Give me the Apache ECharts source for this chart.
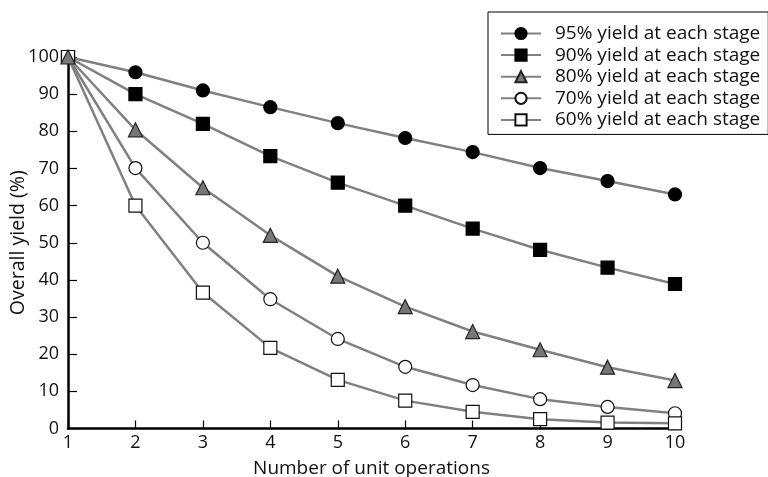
<!DOCTYPE html>
<html>
<head>
<meta charset="utf-8">
<script src="https://cdn.jsdelivr.net/npm/echarts@6/dist/echarts.min.js"></script>
<style>html,body{margin:0;padding:0;background:#fff}#c{width:768px;height:477px}</style>
</head>
<body>
<div id="c"></div>
<script>
const stages = [1, 2, 3, 4, 5, 6, 7, 8, 9, 10];
const seriesNames = ['95% yield at each stage', '90% yield at each stage', '80% yield at each stage', '70% yield at each stage', '60% yield at each stage'];
const y95 = [100, 95.9, 91.0, 86.5, 82.2, 78.2, 74.4, 70.1, 66.6, 63.0];
const y90 = [100, 90.0, 82.0, 73.3, 66.2, 60.0, 53.8, 48.1, 43.3, 38.9];
const y80 = [100, 80.4, 64.8, 52.0, 41.0, 32.8, 26.1, 21.2, 16.5, 12.9];
const y70 = [100, 70.1, 50.0, 34.8, 24.1, 16.6, 11.7, 7.9, 5.8, 4.1];
const y60 = [100, 60.0, 36.6, 21.7, 13.1, 7.5, 4.5, 2.5, 1.6, 1.4];
const yTicks = [0, 10, 20, 30, 40, 50, 60, 70, 80, 90, 100];
const xTicks = stages;

const FONT = 'Open Sans';
const pair = arr => stages.map((s, i) => [s, arr[i]]);
const styles = [
  {symbol: 'circle', size: 13, fill: '#000', border: '#000', z: 3},
  {symbol: 'rect', size: 13, fill: '#000', border: '#000', z: 3},
  {symbol: 'triangle', size: 14, fill: '#777', border: '#222', z: 6},
  {symbol: 'circle', size: 13, fill: '#fff', border: '#111', z: 4},
  {symbol: 'rect', size: 13, fill: '#fff', border: '#111', z: 5}
];
const datas = [y95, y90, y80, y70, y60];

const chart = echarts.init(document.getElementById('c'), null, {renderer: 'canvas'});
chart.setOption({
  animation: false,
  backgroundColor: '#fff',
  grid: {left: 68, right: 93, top: 57, bottom: 48.5, containLabel: false, outerBoundsMode: 'none'},
  legend: {
    orient: 'vertical',
    left: 488, top: 12,
    padding: [12, 8, 5, 12],
    borderColor: '#000', borderWidth: 1,
    itemWidth: 40, itemHeight: 14, itemGap: 2.6,
    textStyle: {fontFamily: FONT, fontSize: 19, lineHeight: 19, color: '#111', padding: [0, 0, 0, 9]},
    data: seriesNames
  },
  xAxis: {
    type: 'value', min: 1, max: 10, interval: 1,
    name: 'Number of unit operations', nameLocation: 'middle', nameGap: 31,
    nameTextStyle: {fontFamily: FONT, fontSize: 19, color: '#111'},
    axisLine: {show: true, onZero: false, lineStyle: {color: '#000', width: 2.5}},
    axisTick: {show: true, inside: true, length: 8, lineStyle: {color: '#000', width: 1.2}},
    axisLabel: {fontFamily: FONT, fontSize: 18, color: '#111', margin: 5,
      formatter: v => xTicks.includes(v) ? String(v) : ''},
    splitLine: {show: false}
  },
  yAxis: {
    type: 'value', min: 0, max: 100, interval: 10,
    name: 'Overall yield (%)', nameLocation: 'middle', nameGap: 40, nameRotate: 90,
    nameMoveOverlap: false,
    nameTextStyle: {fontFamily: FONT, fontSize: 19.5, color: '#111'},
    axisLine: {show: true, onZero: false, lineStyle: {color: '#000', width: 2.5}},
    axisTick: {show: true, inside: true, length: 9, lineStyle: {color: '#000', width: 1.2}},
    axisLabel: {fontFamily: FONT, fontSize: 18, color: '#111', margin: 9,
      formatter: v => yTicks.includes(v) ? String(v) : ''},
    splitLine: {show: false}
  },
  series: seriesNames.map((name, i) => ({
    name: name,
    type: 'line',
    data: pair(datas[i]),
    symbol: styles[i].symbol,
    symbolSize: styles[i].size,
    z: styles[i].z,
    lineStyle: {color: '#808080', width: 2.5},
    itemStyle: {color: styles[i].fill, borderColor: styles[i].border, borderWidth: 1.2},
    emphasis: {disabled: true}
  }))
});
</script>
</body>
</html>
